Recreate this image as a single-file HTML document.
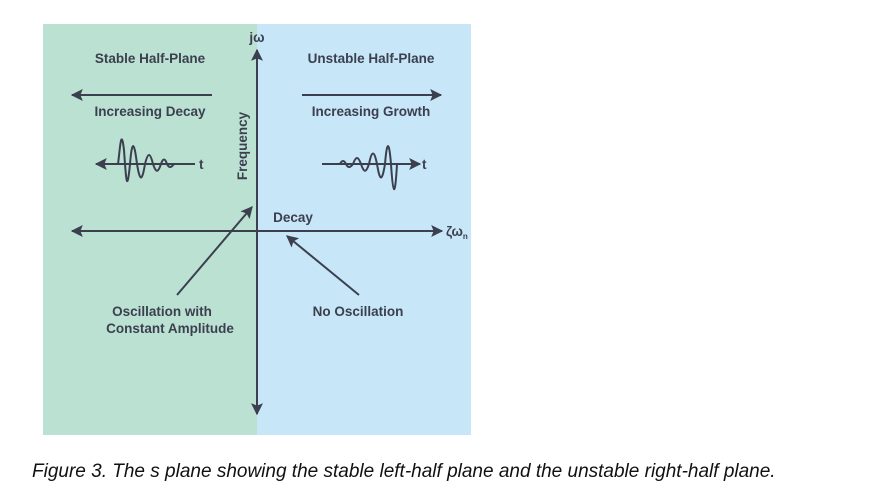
<!DOCTYPE html>
<html><head><meta charset="utf-8"><style>
html,body{margin:0;padding:0;background:#fff;width:892px;height:495px;overflow:hidden}
svg text{font-family:"Liberation Sans",sans-serif;font-weight:bold;fill:#3b3f4e;font-size:13.5px}
.cap{position:absolute;left:32px;top:461px;font-family:"Liberation Sans",sans-serif;font-style:italic;font-size:19px;color:#111;white-space:nowrap}
</style></head><body>
<svg width="892" height="495" style="position:absolute;left:0;top:0">
<defs>
<marker id="b" viewBox="0 0 10 10" refX="9" refY="5" markerWidth="17" markerHeight="12" markerUnits="userSpaceOnUse" orient="auto-start-reverse"><path d="M0,0 L10,5 L0,10 L2,5 z" fill="#3b3f4e"/></marker></defs>
<rect x="43" y="24" width="214" height="411" fill="#bbe1d3"/>
<rect x="257" y="24" width="214" height="411" fill="#c7e6f8"/>
<g stroke="#3b3f4e" stroke-width="2" fill="none">
<line x1="257" y1="50" x2="257" y2="414" marker-start="url(#b)" marker-end="url(#b)"/>
<line x1="72" y1="231" x2="442" y2="231" marker-start="url(#b)" marker-end="url(#b)"/>
<line x1="212" y1="95" x2="72" y2="95" marker-end="url(#b)"/>
<line x1="302" y1="95" x2="441" y2="95" marker-end="url(#b)"/>
<line x1="195" y1="164" x2="96" y2="164" marker-end="url(#b)"/>
<line x1="322" y1="164" x2="420" y2="164" marker-end="url(#b)"/>
<line x1="177" y1="295" x2="252" y2="207" marker-end="url(#b)"/>
<line x1="359" y1="295" x2="287" y2="236" marker-end="url(#b)"/>
<path d="M118,164 C120,150 121,125 124,150 C126,180 127,195 130,164 C132,140 134,140 137,164 C140,182 142,182 145,164 C148,152 150,152 153,164 C156,173 158,173 161,164 C163,158 165,158 167,164 C169,168 171,168 174,164"/>
<path d="M340,164 C342,160 344,160 346,164 C348,168 350,168 353,164 C356,156 358,156 361,164 C364,173 366,173 369,164 C372,150 374,150 377,164 C380,182 382,182 385,164 C387,140 389,140 391,164 C393,195 395,200 397,164"/>
</g>
<text x="150" y="63" text-anchor="middle">Stable Half-Plane</text>
<text x="371" y="63" text-anchor="middle">Unstable Half-Plane</text>
<text x="150" y="116" text-anchor="middle">Increasing Decay</text>
<text x="371" y="116" text-anchor="middle">Increasing Growth</text>
<text x="199" y="169">t</text>
<text x="422" y="169">t</text>
<text x="257" y="42" text-anchor="middle">jω</text>
<text x="293" y="222" text-anchor="middle">Decay</text>
<text x="446" y="236">ζω<tspan font-size="8" dy="3">n</tspan></text>
<text transform="translate(247,146) rotate(-90)" text-anchor="middle">Frequency</text>
<text x="162" y="316" text-anchor="middle">Oscillation with</text>
<text x="170" y="333" text-anchor="middle">Constant Amplitude</text>
<text x="358" y="316" text-anchor="middle">No Oscillation</text>
</svg>
<div class="cap">Figure 3. The s plane showing the stable left-half plane and the unstable right-half plane.</div>
</body></html>
